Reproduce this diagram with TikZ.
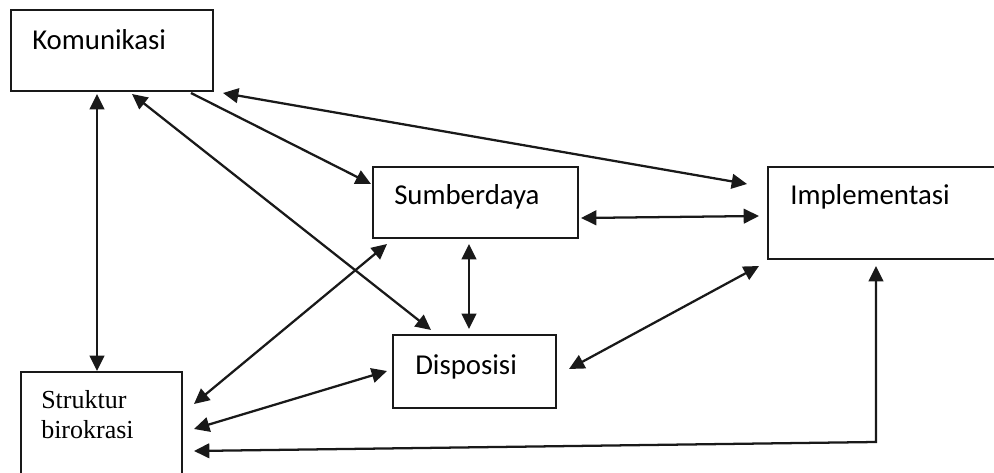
\documentclass[tikz,border=0pt]{standalone}
\usepackage{fontspec}
\setmainfont{Carlito}
\newfontfamily\serifface{Liberation Serif}
\usetikzlibrary{arrows.meta,calc}

\tikzset{
  box/.style={draw=black!90, line width=1.5pt, rectangle, inner sep=0pt},
  lbl/.style={anchor=base west, inner sep=0pt, font=\fontsize{21.6}{26}\selectfont},
  sflbl/.style={anchor=base west, inner sep=0pt, font=\serifface\fontsize{19.5}{24}\selectfont},
  tip/.tip={Triangle[length=11.5pt,width=11pt]},
  link/.style={draw=black!90, line width=1.7pt, -tip},
  both/.style={draw=black!90, line width=1.7pt, tip-tip}
}

\begin{document}
\begin{tikzpicture}[x=0.75pt,y=-0.75pt]
\useasboundingbox (0,0) rectangle (994,473);

% boxes (sizes in pt, positions in picture units)
\node[box, minimum width=151.5pt, minimum height=60.75pt] (kom) at (112,50.5) {};
\node[box, minimum width=153.75pt, minimum height=53.25pt] (sum) at (475.5,202.5) {};
\node[box, minimum width=122.25pt, minimum height=54.75pt] (dis) at (474.5,371.5) {};
\node[box, minimum width=180pt, minimum height=69pt] (imp) at (888,213) {};
\node[box, minimum width=120.75pt, minimum height=88.5pt] (str) at (101.5,431) {};

% labels
\node[lbl] (komtxt) at (32,50) {Komunikasi};
\node[lbl] (sumtxt) at (394,205) {Sumberdaya};
\node[lbl] (distxt) at (415,374) {Disposisi};
\node[lbl] (imptxt) at (790,205) {Implementasi};
\node[sflbl] (strtxt1) at (41,408) {Struktur};
\node[sflbl] (strtxt2) at (41,438) {birokrasi};

% connectors
\draw[both] ($(kom.south west)+(87,2)$) -- ($(str.north west)+(77,0)$);
\draw[both] ($(kom.south west)+(122,2)$) -- ($(dis.north west)+(39,-4)$);
\draw[link] ($(kom.south west)+(181,1)$) -- ($(sum.north west)+(-1,18)$);
\draw[both] ($(kom.south east)+(9,1)$) -- ($(imp.north west)+(-20,18)$);
\draw[both] ($(sum.south east)+(2,-21)$) -- ($(imp.north west)+(-8,50)$);
\draw[both] ($(sum.south west)+(97,5)$) -- ($(dis.north west)+(77,-5)$);
\draw[both] ($(str.north east)+(11,33)$) -- ($(sum.south west)+(15,5)$);
\draw[both] ($(str.north east)+(11,58)$) -- ($(dis.north west)+(-5,37)$);
\draw[both] ($(dis.north east)+(12,35)$) -- ($(imp.south west)+(-8,6)$);
% elbow from Implementasi down and back to Struktur birokrasi
\coordinate (bend) at ($(imp.south west)+(109,182)$);
\draw[both] ($(imp.south west)+(109,6)$) -- (bend) -- ($(str.north east)+(11,80)$);
\end{tikzpicture}
\end{document}
